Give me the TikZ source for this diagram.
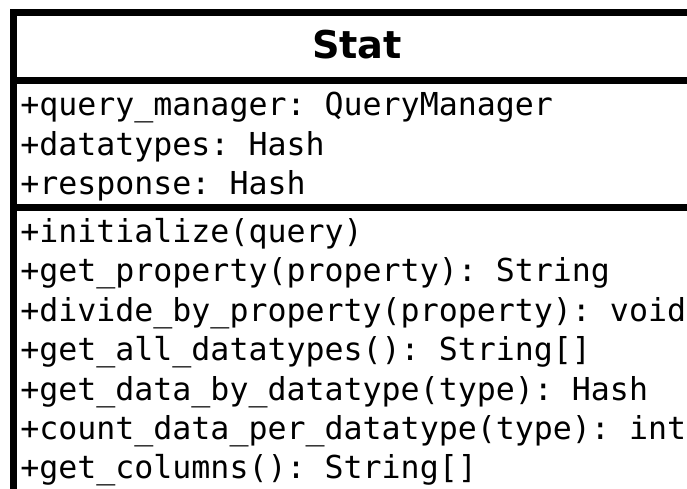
\documentclass[tikz,border=0pt]{standalone}
\usepackage{fontspec}
\setmainfont{DejaVu Sans}
\setmonofont{DejaVu Sans Mono}

\tikzset{
  member/.style={anchor=base west, inner sep=0pt, font=\fontsize{23.7}{28}\selectfont\ttfamily},
  classname/.style={anchor=base, inner sep=0pt, font=\fontsize{28.7}{34}\selectfont\bfseries},
  border/.style={line width=5.25pt}
}

\begin{document}
\begin{tikzpicture}[x=0.75pt,y=-0.75pt]
		\useasboundingbox (0,0) rectangle (687,489);
		\clip (0,0) rectangle (687,489);
		% class box, cut by the page on the right and at the bottom
		\draw [border](13.5,12.5) rectangle (701,560);
		\draw [border](13.5,80.5) -- (701,80.5);
		\draw [border](13.5,207) -- (701,207);
		\node [classname](Stat)at (357,58) {Stat};
		% attributes
		\node [member](QueryManager)at (20,115) {+query\_manager: QueryManager};
		\node [member](Datatypes)at (20,155) {+datatypes: Hash};
		\node [member](Response)at (20,195) {+response: Hash};
		% methods
		\node [member](Initialize)at (20,242) {+initialize(query)};
		\node [member](GetProperty)at (20,281.5) {+get\_property(property): String};
		\node [member](DivideByProperty)at (20,321) {+divide\_by\_property(property): void};
		\node [member](GetAllDatatypes)at (20,360) {+get\_all\_datatypes(): String[]};
		\node [member](GetDataByDatatype)at (20,400) {+get\_data\_by\_datatype(type): Hash};
		\node [member](CountData)at (20,439) {+count\_data\_per\_datatype(type): int};
		\node [member](GetColumns)at (20,478) {+get\_columns(): String[]};
	\end{tikzpicture}
\end{document}
